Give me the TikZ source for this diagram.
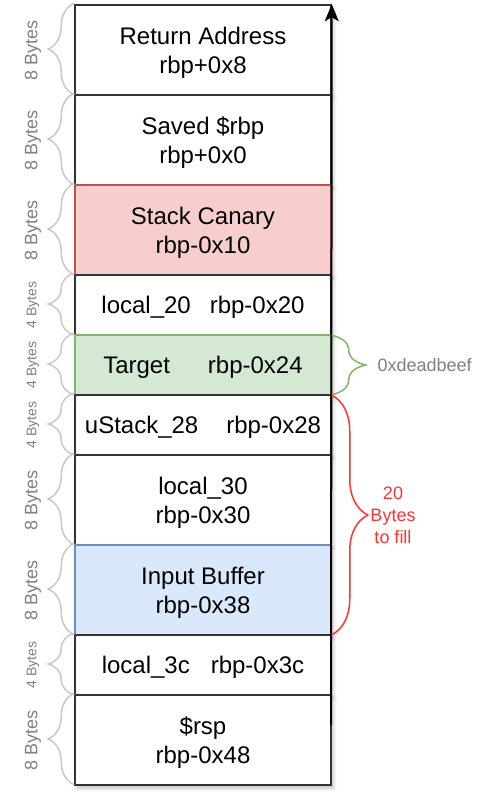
\documentclass[tikz,border=0pt]{standalone}
\usepackage{fontspec}
\setmainfont{Liberation Sans}
\usetikzlibrary{arrows.meta,decorations.pathreplacing,shadows.blur}
\definecolor{boxline}{HTML}{333333}
\definecolor{redline}{HTML}{B85450}
\definecolor{redfill}{HTML}{F8CECC}
\definecolor{greenline}{HTML}{82B366}
\definecolor{greenfill}{HTML}{D5E8D4}
\definecolor{blueline}{HTML}{6C8EBF}
\definecolor{bluefill}{HTML}{DAE8FC}
\definecolor{bracegray}{HTML}{C8C8C8}
\definecolor{labelgray}{HTML}{808080}
\definecolor{fillred}{HTML}{FF3333}

\begin{document}
\begin{tikzpicture}[x=1pt,y=-1pt]
	\tikzstyle{slot}=[draw=boxline, line width=1.5pt, fill=white, minimum width=256pt, inner sep=0pt, align=center, font=\fontsize{24}{29}\selectfont, blur shadow={shadow xshift=2pt, shadow yshift=-3pt, shadow blur radius=4pt, shadow opacity=25}]
	\tikzstyle{big}=[minimum height=90pt, text depth=-4pt]
	\tikzstyle{small}=[minimum height=60pt, text depth=-10pt]
	\tikzstyle{lbrace}=[draw=bracegray, line width=1.5pt, decorate, decoration={brace, amplitude=26pt}]
	\tikzstyle{eight}=[text=labelgray, rotate=90, font=\fontsize{18}{22}\selectfont]
	\tikzstyle{four}=[text=labelgray, rotate=90, font=\fontsize{14}{17}\selectfont]
	\useasboundingbox (0,0) rectangle (490,792);
	% stack slots, top to bottom
	\node (s1) [slot,big] at (203,50) {Return Address\\rbp+0x8};
	\node (s2) [slot,big] at (203,140) {Saved \$rbp\\rbp+0x0};
	\node (s3) [slot,big,draw=redline,fill=redfill] at (203,230) {Stack Canary\\rbp-0x10};
	\node (s4) [slot,small] at (203,305) {local\_20\hspace{19pt}rbp-0x20};
	\node (s5) [slot,small,draw=greenline,fill=greenfill] at (203,365) {Target\hspace{38pt}rbp-0x24};
	\node (s6) [slot,small] at (203,425) {uStack\_28\hspace{28pt}rbp-0x28};
	\node (s7) [slot,big] at (203,500) {local\_30\\rbp-0x30};
	\node (s8) [slot,big,draw=blueline,fill=bluefill] at (203,590) {Input Buffer\\rbp-0x38};
	\node (s9) [slot,small] at (203,665) {local\_3c\hspace{21pt}rbp-0x3c};
	\node (s10) [slot,big] at (203,740) {\$rsp\\rbp-0x48};
	% growth arrow
	\coordinate (base) at (331,725);
	\draw[-{Stealth[length=17pt,width=14pt,inset=4pt]}, line width=2pt] (base) -- (s1.north east);
	% sizes on the left
	\draw[lbrace] (s1.south west) ++(0,-1) -- ([yshift=1pt]s1.north west);
	\draw[lbrace] (s2.south west) ++(0,-1) -- ([yshift=1pt]s2.north west);
	\draw[lbrace] (s3.south west) ++(0,-1) -- ([yshift=1pt]s3.north west);
	\draw[lbrace] (s4.south west) ++(0,-1) -- ([yshift=1pt]s4.north west);
	\draw[lbrace] (s5.south west) ++(0,-1) -- ([yshift=1pt]s5.north west);
	\draw[lbrace] (s6.south west) ++(0,-1) -- ([yshift=1pt]s6.north west);
	\draw[lbrace] (s7.south west) ++(0,-1) -- ([yshift=1pt]s7.north west);
	\draw[lbrace] (s8.south west) ++(0,-1) -- ([yshift=1pt]s8.north west);
	\draw[lbrace] (s9.south west) ++(0,-1) -- ([yshift=1pt]s9.north west);
	\draw[lbrace] (s10.south west) ++(0,-1) -- ([yshift=1pt]s10.north west);
	\node (n1) [eight] at (33,50) {8 Bytes};
	\node (n2) [eight] at (33,140) {8 Bytes};
	\node (n3) [eight] at (33,230) {8 Bytes};
	\node (n4) [four] at (33,305) {4 Bytes};
	\node (n5) [four] at (33,365) {4 Bytes};
	\node (n6) [four] at (33,425) {4 Bytes};
	\node (n7) [eight] at (33,500) {8 Bytes};
	\node (n8) [eight] at (33,590) {8 Bytes};
	\node (n9) [four] at (33,665) {4 Bytes};
	\node (n10) [eight] at (33,740) {8 Bytes};
	% right side
	\draw[draw=greenline, line width=1.5pt, decorate, decoration={brace, amplitude=34pt}] ([yshift=-1pt]s5.north east) -- ([yshift=1pt]s5.south east);
	\node (deadbeef) [text=labelgray, anchor=west, font=\fontsize{18}{22}\selectfont] at (374,365) {0xdeadbeef};
	\draw[draw=fillred, line width=1.5pt, decorate, decoration={brace, amplitude=36pt}] ([yshift=-1pt]s6.north east) -- ([yshift=1pt]s8.south east);
	\node (fill) [text=fillred, align=center, font=\fontsize{18}{22}\selectfont] at (393,515) {20\\Bytes\\to fill};
\end{tikzpicture}
\end{document}
